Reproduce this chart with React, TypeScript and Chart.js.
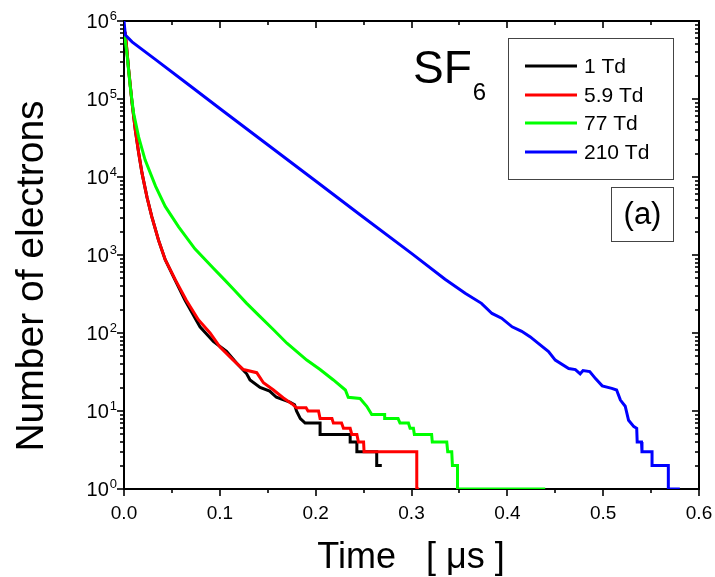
import React, { useEffect, useRef } from "react";
import { Chart, registerables } from "chart.js";

Chart.register(...registerables);

// ---- data ----
const seriesLabels = ["1 Td", "5.9 Td", "77 Td", "210 Td"];
const seriesColors = ["#000000", "#ff0000", "#00ff00", "#0000ff"];

const timeBlack = [0, 0.0014, 0.0049, 0.0084, 0.0118, 0.0153, 0.0188, 0.024, 0.029, 0.036, 0.043, 0.0536, 0.0637, 0.0793, 0.0932, 0.107, 0.1176, 0.128, 0.1315, 0.142, 0.152, 0.159, 0.173, 0.178, 0.18, 0.184, 0.189, 0.2046, 0.2046, 0.236, 0.236, 0.243, 0.243, 0.2637, 0.2637, 0.269];
const countBlack = [750000, 690000, 234000, 89000, 40000, 20400, 11200, 5500, 3100, 1550, 870, 470, 263, 120, 78, 58, 41, 30, 25, 20, 18, 15, 13, 12, 10, 8, 7, 7, 5, 5, 4, 4, 3, 3, 2, 2];

const timeRed = [0, 0.0014, 0.0049, 0.0084, 0.0118, 0.0153, 0.0188, 0.024, 0.029, 0.036, 0.043, 0.0536, 0.065, 0.0776, 0.0898, 0.1002, 0.114, 0.1246, 0.1385, 0.1455, 0.156, 0.166, 0.1767, 0.18, 0.19, 0.192, 0.203, 0.2046, 0.217, 0.2185, 0.227, 0.229, 0.236, 0.2377, 0.243, 0.2446, 0.25, 0.2505, 0.3055, 0.3055, 0.308];
const countRed = [750000, 700000, 234000, 89000, 40000, 20400, 11200, 5500, 3100, 1550, 870, 480, 263, 148, 100, 66, 45, 34, 31, 23, 18.6, 14.8, 12, 11, 11, 10, 10, 8, 8, 7, 7, 6, 6, 5, 5, 4, 4, 3, 3, 1, 1];

const timeGreen = [0, 0.003, 0.0066, 0.01, 0.0153, 0.022, 0.033, 0.043, 0.057, 0.074, 0.093, 0.105, 0.115, 0.128, 0.142, 0.156, 0.17, 0.1907, 0.2046, 0.2185, 0.231, 0.234, 0.2463, 0.2533, 0.2585, 0.272, 0.272, 0.286, 0.288, 0.2968, 0.2985, 0.302, 0.303, 0.321, 0.3217, 0.3368, 0.3378, 0.342, 0.3427, 0.348, 0.348, 0.4395];
const countGreen = [760000, 389000, 141000, 66000, 32400, 16600, 7600, 4200, 2300, 1200, 680, 480, 355, 240, 162, 110, 74, 45, 34, 25, 18.6, 15, 14.5, 11.5, 9, 9, 8, 8, 7, 7, 6, 6, 5, 5, 4, 4, 3, 3, 2, 2, 1, 1];

const timeBlue = [0, 0.0014, 0.0084, 0.033, 0.0675, 0.102, 0.132, 0.2, 0.246, 0.3, 0.335, 0.356, 0.373, 0.384, 0.394, 0.405, 0.415, 0.424, 0.432, 0.443, 0.45, 0.464, 0.471, 0.476, 0.479, 0.486, 0.492, 0.499, 0.509, 0.514, 0.518, 0.523, 0.5265, 0.532, 0.535, 0.5355, 0.54, 0.5405, 0.551, 0.551, 0.568, 0.568, 0.58];
const countBlue = [1000000, 660000, 540000, 320000, 152000, 72400, 38000, 8900, 3310, 1050, 490, 324, 240, 178, 155, 120, 105, 89, 74, 58, 45, 35, 34, 30, 33, 32, 26, 21, 19.5, 18.6, 13.8, 11.5, 7.6, 6.3, 6, 4, 4, 3, 3, 2, 2, 1, 1];

const xTickValues = [0, 0.1, 0.2, 0.3, 0.4, 0.5, 0.6];
const xTickLabels = ["0.0", "0.1", "0.2", "0.3", "0.4", "0.5", "0.6"];
const yTickValues = [1, 10, 100, 1000, 10000, 100000, 1000000];
const yTickExponents = ["0", "1", "2", "3", "4", "5", "6"];

const xTitle = "Time   [ \u03bcs ]";
const yTitle = "Number of electrons";
const gasMain = "SF";
const gasSub = "6";
const panelLabel = "(a)";

const FONT = "'Liberation Sans', Arial, sans-serif";

const decorPlugin = {
  id: "decor",
  beforeDatasetsDraw(chart: any) {
    const { ctx, chartArea, scales } = chart;
    const { left, right, top, bottom } = chartArea;
    const xs = scales.x;
    const ys = scales.y;
    ctx.save();
    ctx.strokeStyle = "#000";
    ctx.fillStyle = "#000";
    ctx.lineWidth = 2;
    ctx.strokeRect(left, top, right - left, bottom - top);
    ctx.lineWidth = 1.6;
    const seg = (x1: number, y1: number, x2: number, y2: number) => {
      ctx.beginPath();
      ctx.moveTo(x1, y1);
      ctx.lineTo(x2, y2);
      ctx.stroke();
    };
    // x ticks
    for (let i = 0; i < xTickValues.length; i++) {
      const v = xTickValues[i];
      const px = Math.round(xs.getPixelForValue(v));
      seg(px, bottom, px, bottom + 7);
      seg(px, top, px, top + 7);
      if (i < xTickValues.length - 1) {
        const mv = (v + xTickValues[i + 1]) / 2;
        const mpx = Math.round(xs.getPixelForValue(mv));
        seg(mpx, bottom, mpx, bottom + 4);
        seg(mpx, top, mpx, top + 4);
      }
    }
    ctx.font = `19px ${FONT}`;
    ctx.textAlign = "center";
    ctx.textBaseline = "middle";
    xTickValues.forEach((v, i) => {
      const px = xs.getPixelForValue(v);
      ctx.fillText(xTickLabels[i], px, bottom + 25);
    });
    // y ticks
    for (let i = 0; i < yTickValues.length; i++) {
      const v = yTickValues[i];
      const py = Math.round(ys.getPixelForValue(v));
      seg(left - 7, py, left, py);
      seg(right - 7, py, right, py);
      if (i < yTickValues.length - 1) {
        for (let k = 2; k <= 9; k++) {
          const mpy = Math.round(ys.getPixelForValue(v * k));
          seg(left - 4, mpy, left, mpy);
          seg(right - 4, mpy, right, mpy);
        }
      }
    }
    yTickValues.forEach((v, i) => {
      const py = ys.getPixelForValue(v);
      const supRight = left - 7;
      ctx.font = `13px ${FONT}`;
      ctx.textAlign = "right";
      ctx.textBaseline = "alphabetic";
      const sw = ctx.measureText(yTickExponents[i]).width;
      ctx.fillText(yTickExponents[i], supRight, py - 1);
      ctx.font = `20px ${FONT}`;
      ctx.textBaseline = "middle";
      ctx.fillText("10", supRight - sw - 1, py + 1);
    });
    ctx.restore();
  },
  afterDatasetsDraw(chart: any) {
    const { ctx } = chart;
    ctx.save();
    ctx.fillStyle = "#000";
    // axis titles
    ctx.font = `36px ${FONT}`;
    ctx.textAlign = "center";
    ctx.textBaseline = "alphabetic";
    ctx.fillText(xTitle, 411, 568);
    ctx.save();
    ctx.font = `39px ${FONT}`;
    ctx.translate(43, 276);
    ctx.rotate(-Math.PI / 2);
    ctx.fillText(yTitle, 0, 0);
    ctx.restore();
    // gas label
    ctx.textAlign = "left";
    ctx.font = `46px ${FONT}`;
    ctx.fillText(gasMain, 413, 83);
    const mw = ctx.measureText(gasMain).width;
    ctx.font = `24px ${FONT}`;
    ctx.fillText(gasSub, 413 + mw + 1, 100);
    // legend
    ctx.fillStyle = "#fff";
    ctx.fillRect(508, 38, 166, 142);
    ctx.strokeStyle = "#444";
    ctx.lineWidth = 1;
    ctx.strokeRect(508.5, 38.5, 165, 141);
    const rows = [66, 95, 123, 152];
    chart.data.datasets.forEach((ds: any, i: number) => {
      ctx.strokeStyle = ds.borderColor;
      ctx.lineWidth = 3;
      ctx.beginPath();
      ctx.moveTo(525, rows[i]);
      ctx.lineTo(577, rows[i]);
      ctx.stroke();
      ctx.fillStyle = "#000";
      ctx.font = `21px ${FONT}`;
      ctx.textBaseline = "middle";
      ctx.fillText(ds.label, 584, rows[i] + 1);
    });
    // panel label
    ctx.strokeStyle = "#444";
    ctx.lineWidth = 1;
    ctx.strokeRect(611.5, 187.5, 62, 54);
    ctx.fillStyle = "#000";
    ctx.font = `31px ${FONT}`;
    ctx.textAlign = "center";
    ctx.textBaseline = "middle";
    ctx.fillText(panelLabel, 642.5, 215);
    ctx.restore();
  },
};

function series(t: number[], c: number[]) {
  return t.map((x, i) => ({ x, y: c[i] }));
}

export default function App() {
  const ref = useRef<HTMLCanvasElement | null>(null);
  useEffect(() => {
    document.body.style.margin = "0";
    const canvas = ref.current;
    if (!canvas) return;
    const all = [
      series(timeBlack, countBlack),
      series(timeRed, countRed),
      series(timeGreen, countGreen),
      series(timeBlue, countBlue),
    ];
    const chart = new Chart(canvas, {
      type: "line",
      data: {
        datasets: all.map((d, i) => ({
          label: seriesLabels[i],
          data: d,
          borderColor: seriesColors[i],
          backgroundColor: seriesColors[i],
          borderWidth: 3,
          pointRadius: 0,
          tension: 0,
          fill: false,
          order: 4 - i,
        })),
      },
      options: {
        animation: false,
        responsive: false,
        devicePixelRatio: 1,
        layout: { padding: { left: 124, right: 16, top: 21, bottom: 88 } },
        plugins: { legend: { display: false }, tooltip: { enabled: false } },
        scales: {
          x: { type: "linear", min: 0, max: 0.6, display: false },
          y: { type: "logarithmic", min: 1, max: 1000000, display: false },
        },
      },
      plugins: [decorPlugin],
    });
    return () => chart.destroy();
  }, []);
  return (
    <div style={{ width: 715, height: 577, background: "#fff" }}>
      <canvas ref={ref} width={715} height={577} style={{ display: "block" }} />
    </div>
  );
}
